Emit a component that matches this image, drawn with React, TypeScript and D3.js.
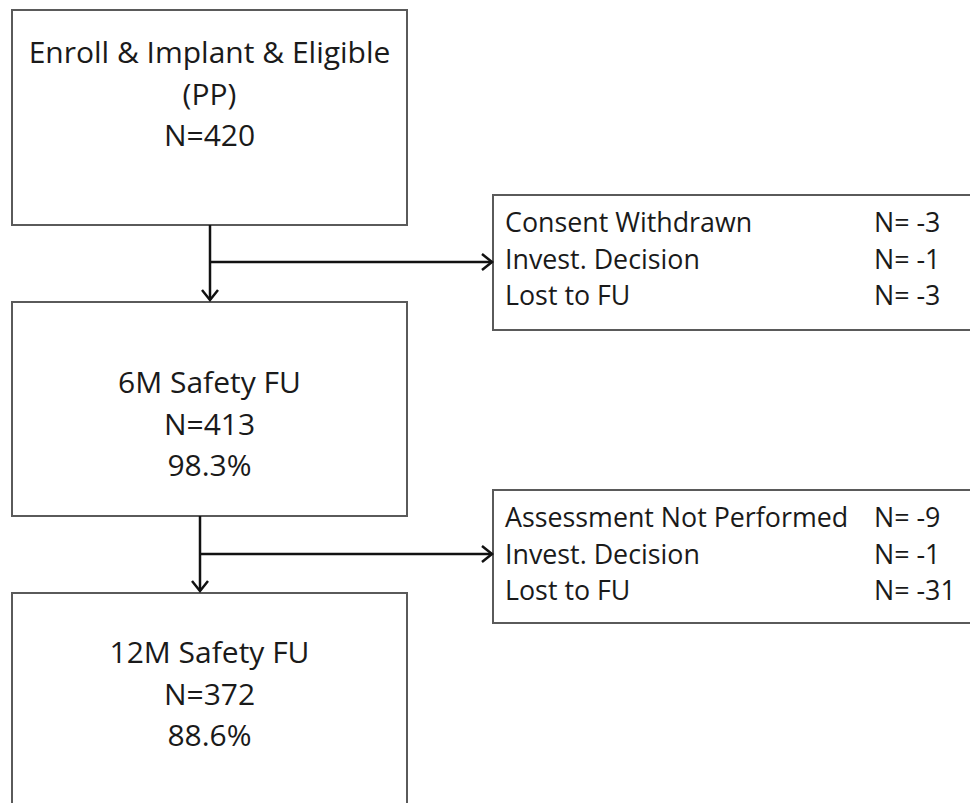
import * as d3 from "d3";
import React, { useEffect, useRef } from "react";

// flow stages (left column)
const stageTitles = ["Enroll & Implant & Eligible", "6M Safety FU", "12M Safety FU"];
const stageSubtitles = ["(PP)", null, null];
const stageCounts = [420, 413, 372];
const stagePercents = [null, "98.3%", "88.6%"];

// exclusions between stages (right column)
const exclusionReasons1 = ["Consent Withdrawn", "Invest. Decision", "Lost to FU"];
const exclusionCounts1 = [-3, -1, -3];
const exclusionReasons2 = ["Assessment Not Performed", "Invest. Decision", "Lost to FU"];
const exclusionCounts2 = [-9, -1, -31];

const W = 970;
const H = 803;
const FONT = "'Open Sans', 'Noto Sans', sans-serif";

function App() {
  const svgRef = useRef(null);

  useEffect(() => {
    const svg = d3.select(svgRef.current);
    svg.selectAll("*").remove();

    // layout of the boxes
    const boxTop = [10, 302, 593];
    const boxBottom = [225, 516, 815];
    const textOffset = [53, 91, 70];
    const sideTop = [195, 490];
    const sideBottom = [330, 623];
    const arrowX = [210, 200];
    const branchY = [262, 554];

    const x = d3.scaleLinear().domain([0, 1]).range([12, 407]);
    const cx = (x(0) + x(1)) / 2;
    const sideX = d3.scaleLinear().domain([0, 1]).range([493, 980]);

    const stages = stageTitles.map((t, i) => ({
      lines: [t, stageSubtitles[i], `N=${stageCounts[i]}`, stagePercents[i]].filter(Boolean),
      top: boxTop[i],
      bottom: boxBottom[i],
      off: textOffset[i],
    }));

    const g = svg.append("g");

    // main boxes
    g.selectAll(".stage")
      .data(stages)
      .join("rect")
      .attr("class", "stage")
      .attr("x", x(0))
      .attr("y", (d) => d.top)
      .attr("width", x(1) - x(0))
      .attr("height", (d) => d.bottom - d.top)
      .attr("fill", "#fff")
      .attr("stroke", "#5a5a5a")
      .attr("stroke-width", 2);

    stages.forEach((s) => {
      g.append("text")
        .attr("font-family", FONT)
        .attr("font-size", 30)
        .attr("fill", "#1a1a1a")
        .attr("text-anchor", "middle")
        .selectAll("tspan")
        .data(s.lines)
        .join("tspan")
        .attr("x", cx)
        .attr("y", (d, i) => s.top + s.off + i * 41.5)
        .text((d) => d);
    });

    // exclusion boxes
    const sides = [
      { reasons: exclusionReasons1, counts: exclusionCounts1 },
      { reasons: exclusionReasons2, counts: exclusionCounts2 },
    ];
    sides.forEach((s, k) => {
      g.append("rect")
        .attr("x", sideX(0))
        .attr("y", sideTop[k])
        .attr("width", sideX(1) - sideX(0))
        .attr("height", sideBottom[k] - sideTop[k])
        .attr("fill", "#fff")
        .attr("stroke", "#5a5a5a")
        .attr("stroke-width", 2);
      const rowY = d3
        .scalePoint()
        .domain(s.reasons.map((d, i) => i))
        .range([sideTop[k] + 37, sideTop[k] + 110]);
      g.selectAll(`.reason${k}`)
        .data(s.reasons)
        .join("text")
        .attr("class", `reason${k}`)
        .attr("x", 505)
        .attr("y", (d, i) => rowY(i))
        .attr("font-family", FONT)
        .attr("font-size", 26.8)
        .attr("fill", "#1a1a1a")
        .text((d) => d);
      g.selectAll(`.count${k}`)
        .data(s.counts)
        .join("text")
        .attr("class", `count${k}`)
        .attr("x", 874)
        .attr("y", (d, i) => rowY(i))
        .attr("font-family", FONT)
        .attr("font-size", 26.8)
        .attr("fill", "#1a1a1a")
        .text((d) => `N= ${d}`);
    });

    // connectors
    const line = d3.line();
    const head = 8;
    [0, 1].forEach((k) => {
      const ax = arrowX[k];
      const y0 = boxBottom[k];
      const y1 = boxTop[k + 1] - 2;
      const by = branchY[k];
      const ex = sideX(0) - 1;
      g.append("path")
        .attr("d", line([[ax, y0], [ax, y1]]))
        .attr("stroke", "#111")
        .attr("stroke-width", 2.5)
        .attr("fill", "none");
      g.append("path")
        .attr("d", line([[ax - head, y1 - 10], [ax, y1], [ax + head, y1 - 10]]))
        .attr("stroke", "#111")
        .attr("stroke-width", 2.5)
        .attr("fill", "none");
      g.append("path")
        .attr("d", line([[ax, by], [ex, by]]))
        .attr("stroke", "#111")
        .attr("stroke-width", 2.5)
        .attr("fill", "none");
      g.append("path")
        .attr("d", line([[ex - 10, by - head], [ex, by], [ex - 10, by + head]]))
        .attr("stroke", "#111")
        .attr("stroke-width", 2.5)
        .attr("fill", "none");
    });
  }, []);

  return (
    <svg
      ref={svgRef}
      width={W}
      height={H}
      style={{ position: "absolute", left: 0, top: 0, background: "#fff" }}
    />
  );
}

export default App;
